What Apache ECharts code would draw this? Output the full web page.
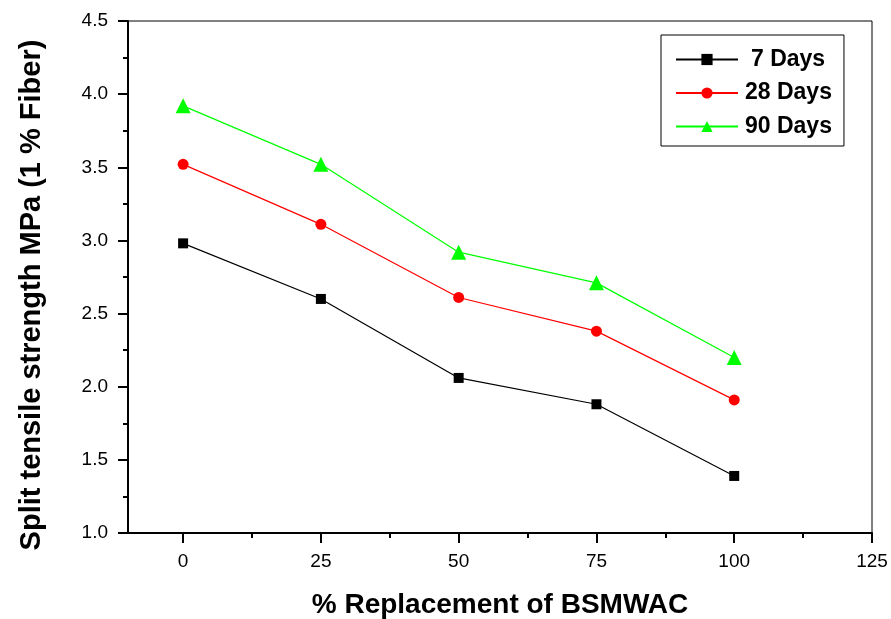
<!DOCTYPE html>
<html><head><meta charset="utf-8">
<script src="https://cdn.jsdelivr.net/npm/echarts@6/dist/echarts.min.js"></script>
<style>html,body{margin:0;padding:0;background:#fff}#c{width:891px;height:619px}</style>
</head><body><div id="c"></div>
<script>
const xValues = [0, 25, 50, 75, 100];
const days7 = [2.98, 2.60, 2.06, 1.88, 1.39];
const days28 = [3.52, 3.11, 2.61, 2.38, 1.91];
const days90 = [3.92, 3.52, 2.92, 2.71, 2.20];
const seriesNames = ['7 Days', '28 Days', '90 Days'];
const xMajorTicks = [0, 25, 50, 75, 100, 125];
const xMinorTicks = [12.5, 37.5, 62.5, 87.5, 112.5];
const xTitle = '% Replacement of BSMWAC';
const yTitle = 'Split tensile strength MPa (1 % Fiber)';

const pair = arr => xValues.map((x, i) => [x, arr[i]]);
const font = 'Liberation Sans, Arial, sans-serif';
const chart = echarts.init(document.getElementById('c'), null, {renderer: 'canvas'});
const mk = (name, data, color, symbol, size) => ({
  name, type: 'line', data: pair(data), symbol, symbolSize: size,
  xAxisIndex: 0, yAxisIndex: 0,
  itemStyle: {color}, lineStyle: {color, width: 1.2}, showSymbol: true, z: 3
});
const tickStyle = {color: '#000', width: 2};
chart.setOption({
  animation: false,
  backgroundColor: '#fff',
  grid: {left: 128, top: 21, right: 19, bottom: 86, show: true, borderColor: '#000', borderWidth: 1,
    outerBoundsMode: 'none', containLabel: false},
  legend: {
    orient: 'vertical', left: 661, top: 35,
    padding: [13, 12, 8, 14], itemGap: 10.5, itemWidth: 62, itemHeight: 14,
    borderColor: '#000', borderWidth: 1, backgroundColor: '#fff',
    formatter: n => n === '7 Days' ? '{a|' + n + '}' : n,
    textStyle: {fontFamily: font, fontWeight: 'bold', fontSize: 23, color: '#000', padding: [0,0,0,2],
      rich: {a: {fontFamily: font, fontWeight: 'bold', fontSize: 23, color: '#000', padding: [0,0,0,6]}}},
    data: seriesNames
  },
  xAxis: [{
    type: 'value', min: -10, max: 125, position: 'bottom',
    name: xTitle, nameLocation: 'middle', nameGap: 58,
    nameTextStyle: {fontFamily: font, fontWeight: 'bold', fontSize: 28, color: '#000'},
    axisLine: {show: true, onZero: false, lineStyle: {color: '#000', width: 2}},
    axisTick: {show: true, inside: false, length: 10, lineStyle: tickStyle, customValues: xMajorTicks},
    axisLabel: {fontFamily: font, fontSize: 19, color: '#000', margin: 19, customValues: xMajorTicks},
    splitLine: {show: false}
  }, {
    type: 'value', min: -10, max: 125, position: 'bottom', offset: 0,
    axisLine: {show: false},
    axisTick: {show: true, inside: false, length: 5, lineStyle: tickStyle, customValues: xMinorTicks},
    axisLabel: {show: false},
    splitLine: {show: false}
  }],
  yAxis: {
    type: 'value', min: 1.0, max: 4.5, interval: 0.5,
    name: yTitle, nameLocation: 'middle', nameGap: 82, nameRotate: 90,
    nameTextStyle: {fontFamily: font, fontWeight: 'bold', fontSize: 29, color: '#000', padding: [0, 36, 0, 0]},
    axisLine: {show: true, onZero: false, lineStyle: {color: '#000', width: 2}},
    axisTick: {show: true, inside: false, length: 10, lineStyle: tickStyle},
    minorTick: {show: true, splitNumber: 2, length: 5, lineStyle: tickStyle},
    axisLabel: {fontFamily: font, fontSize: 19, color: '#000', margin: 20,
      formatter: v => v.toFixed(1)},
    splitLine: {show: false}
  },
  series: [
    mk(seriesNames[0], days7, '#000000', 'rect', 10),
    mk(seriesNames[1], days28, '#ff0000', 'circle', 11),
    mk(seriesNames[2], days90, '#00ff00', 'triangle', 15)
  ]
});
</script></body></html>
